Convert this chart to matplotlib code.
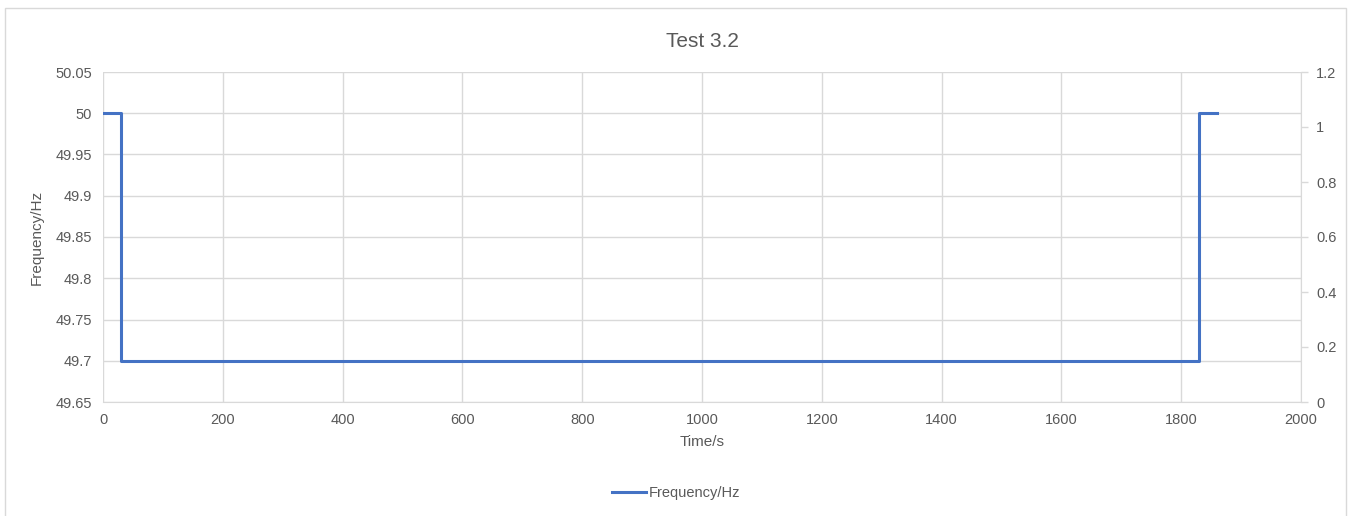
import matplotlib.pyplot as plt
import matplotlib.ticker as mticker

# Messdaten (Stufenverlauf)
time_s = [0, 30, 1830, 1860]
freq_hz = [50.0, 49.7, 50.0, 50.0]

left_ticks = [49.65, 49.7, 49.75, 49.8, 49.85, 49.9, 49.95, 50, 50.05]
right_ticks = [0, 0.2, 0.4, 0.6, 0.8, 1, 1.2]
x_ticks = list(range(0, 2001, 200))

txt = "#595959"
grid = "#d9d9d9"
plt.rcParams["font.family"] = ["Liberation Sans", "DejaVu Sans"]

W, H = 1352, 516
fig = plt.figure(figsize=(W / 100, H / 100), dpi=100)
ax = fig.add_axes([103 / W, 1 - 402 / H, (1301 - 103) / W, (402 - 72) / H])

ax.plot(time_s, freq_hz, drawstyle="steps-post", color="#4472c4", lw=2.2,
        label="Frequency/Hz")
ax.set_xlim(0, 2000)
ax.set_ylim(49.65, 50.05)
ax.set_xticks(x_ticks)
ax.set_yticks(left_ticks)
ax.yaxis.set_major_formatter(mticker.FuncFormatter(lambda v, p: f"{v:g}"))
ax.grid(True, color=grid, lw=1)
ax.set_axisbelow(True)
for s in ["top", "left", "right"]:
    ax.spines[s].set_visible(False)
ax.spines["bottom"].set_color(grid)
ax.tick_params(length=0, labelsize=10.5, colors=txt, pad=8)
ax.set_xlabel("Time/s", fontsize=11, color=txt, labelpad=6)
ax.set_ylabel("Frequency/Hz", fontsize=11, color=txt, labelpad=8)
ax.set_title("Test 3.2", fontsize=15, color=txt, pad=18)

ax2 = ax.twinx()
ax2.set_ylim(0, 1.2)
ax2.set_yticks(right_ticks)
ax2.yaxis.set_major_formatter(mticker.FuncFormatter(lambda v, p: f"{v:g}"))
for s in ["top", "left", "bottom"]:
    ax2.spines[s].set_visible(False)
ax2.spines["right"].set_color(grid)
ax2.tick_params(axis="y", length=5, width=1, color=grid, labelsize=10.5,
                colors=txt, pad=6)
ax2.tick_params(axis="y", color=grid)

fig.legend(*ax.get_legend_handles_labels(), loc="center",
           bbox_to_anchor=(0.5, 1 - 493 / H), frameon=False, fontsize=10.5,
           labelcolor=txt, handlelength=2.3, handletextpad=0.2)

# Rahmen um das Diagramm (unten abgeschnitten)
fig.patches.append(plt.Rectangle((5 / W, -0.01), (1346 - 5) / W, 1.01 - 8 / H,
                                 transform=fig.transFigure, fill=False,
                                 edgecolor=grid, lw=1))

fig.savefig("out.png", dpi=100)
